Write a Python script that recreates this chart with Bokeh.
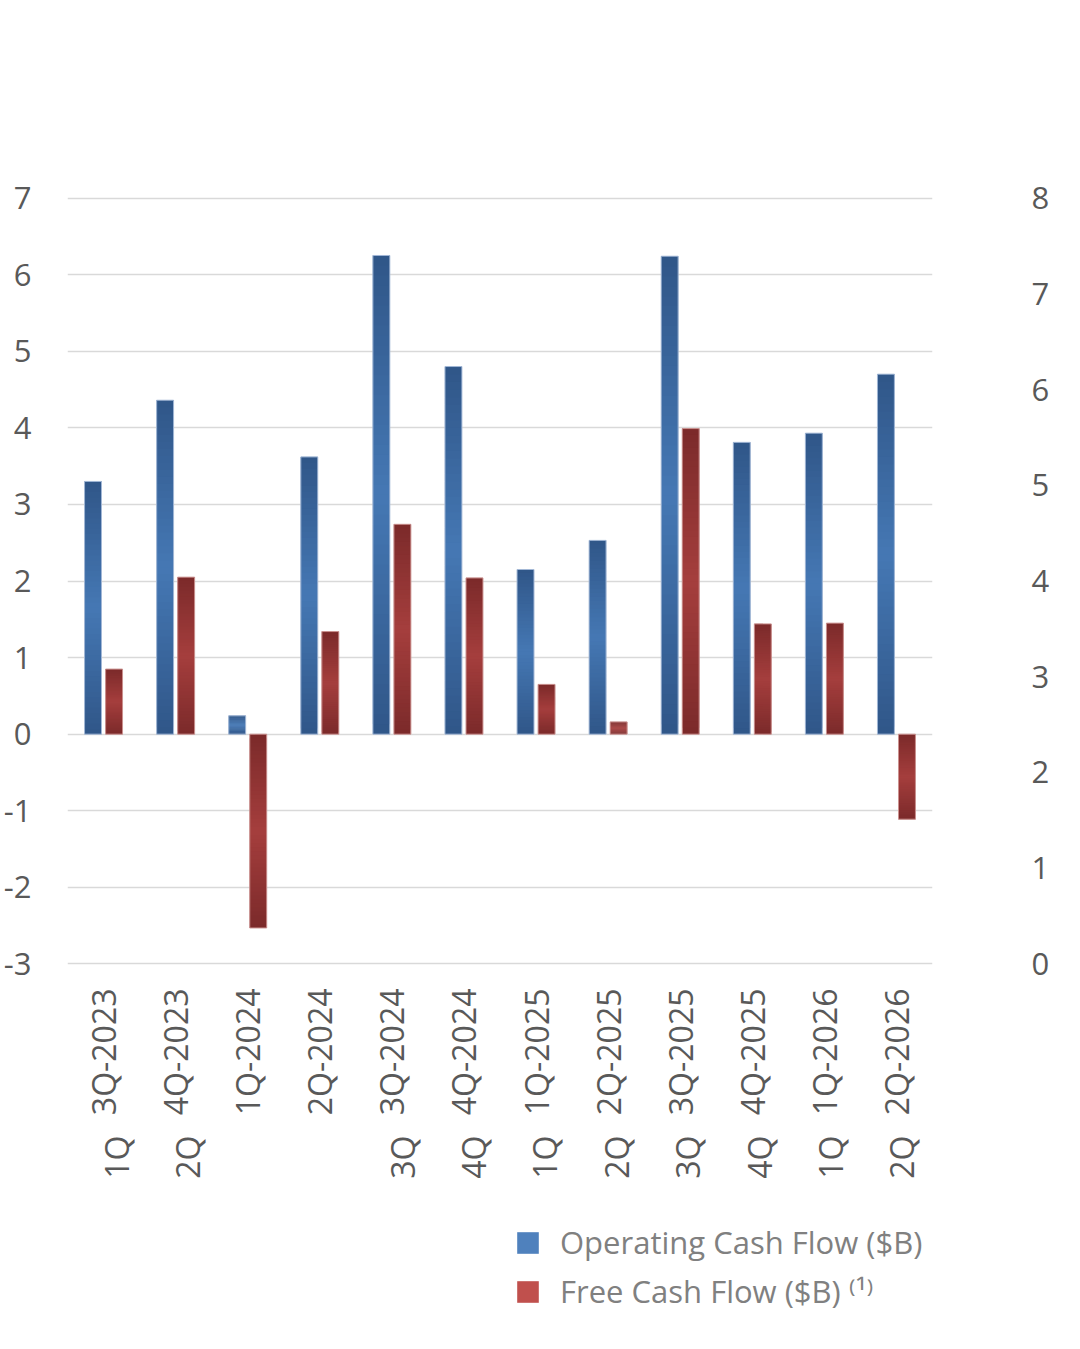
import numpy as np
from bokeh.plotting import figure
from bokeh.layouts import column
from bokeh.models import (Range1d, LinearAxis, FixedTicker,
                          ColumnDataSource, Legend, LegendItem)
from bokeh.embed import file_html
from bokeh.resources import INLINE

# ---------------- data ----------------
quarters = ["3Q-2023", "4Q-2023", "1Q-2024", "2Q-2024", "3Q-2024", "4Q-2024",
            "1Q-2025", "2Q-2025", "3Q-2025", "4Q-2025", "1Q-2026", "2Q-2026"]
fiscal_labels = ["1Q", "2Q", "", "", "3Q", "4Q", "1Q", "2Q", "3Q", "4Q", "1Q", "2Q"]
operating_cf = [3.30, 4.36, 0.24, 3.62, 6.25, 4.80, 2.15, 2.53, 6.24, 3.81, 3.93, 4.70]
free_cf = [0.85, 2.05, -2.53, 1.34, 2.74, 2.04, 0.65, 0.16, 3.99, 1.44, 1.45, -1.11]
series_names = ["Operating Cash Flow ($B)", "Free Cash Flow ($B) \u207d\u00b9\u207e"]
left_ticks = list(range(-3, 8))
right_ticks = list(range(0, 9))

FONT = "Open Sans"
TXT = "#595959"

BLUE_DARK, BLUE_LIGHT = (0x30, 0x56, 0x88), (0x45, 0x78, 0xB4)
RED_DARK, RED_LIGHT = (0x7B, 0x2A, 0x2A), (0xA5, 0x3E, 0x3D)

idx = list(range(len(quarters)))
OFF, W = 0.146, 0.235


def gradient_source(values, shift, dark, light, n=48):
    xs, bottoms, tops, colors = [], [], [], []
    for i, v in zip(idx, values):
        for k in range(n):
            t0, t1 = k / n, min(1.0, (k + 2) / n)
            s = abs((2 * k + 1) / n - 1.0)
            c = tuple(int(round(l * (1 - s) + d * s)) for l, d in zip(light, dark))
            xs.append(i + shift)
            bottoms.append(v * t0)
            tops.append(v * t1)
            colors.append("#%02x%02x%02x" % c)
    return ColumnDataSource(dict(x=xs, bottom=bottoms, top=tops, color=colors))


p = figure(width=1064, height=1205, x_range=Range1d(-0.5, len(quarters) - 0.5),
           y_range=Range1d(-3.02, 7.02), output_backend="svg", toolbar_location=None,
           min_border_left=67, min_border_right=132, min_border_top=196, min_border_bottom=240)
p.extra_y_ranges = {"right": Range1d(-0.016, 8.016)}
p.extra_x_ranges = {"fiscal": Range1d(-0.686, 11.43)}
p.outline_line_color = None
p.background_fill_color = "white"
p.border_fill_color = "white"

blue_src = gradient_source(operating_cf, -OFF, BLUE_DARK, BLUE_LIGHT)
red_src = gradient_source(free_cf, OFF, RED_DARK, RED_LIGHT)
p.vbar(x="x", bottom="bottom", top="top", width=W,
       source=blue_src, fill_color="color", line_color=None)
p.vbar(x="x", bottom="bottom", top="top", width=W,
       source=red_src, fill_color="color", line_color=None)

outline_src = ColumnDataSource(dict(xb=[i - OFF for i in idx], xr=[i + OFF for i in idx],
                                    ocf=operating_cf, fcf=free_cf))
p.vbar(x="xb", top="ocf", bottom=0, width=W, source=outline_src,
       fill_alpha=0, line_color="#A3B8D6", line_width=1)
p.vbar(x="xr", top="fcf", bottom=0, width=W, source=outline_src,
       fill_alpha=0, line_color="#CB9290", line_width=1)

# grid
p.xgrid.visible = False
p.ygrid.ticker = FixedTicker(ticks=left_ticks)
p.ygrid.grid_line_color = "#D9D9D9"
p.ygrid.grid_line_width = 1.4


def style(ax, standoff, size="31px"):
    ax.axis_line_color = None
    ax.major_tick_line_color = None
    ax.minor_tick_line_color = None
    ax.major_label_standoff = standoff
    ax.major_label_text_font = FONT
    ax.major_label_text_font_size = size
    ax.major_label_text_color = TXT


# left axis
ya = p.yaxis[0]
ya.ticker = FixedTicker(ticks=left_ticks)
ya.major_label_overrides = {t: str(t) for t in left_ticks}
style(ya, 30)

# right axis
ra = LinearAxis(y_range_name="right", ticker=FixedTicker(ticks=right_ticks))
style(ra, 93)
p.add_layout(ra, "right")

# bottom quarter axis
xa = p.xaxis[0]
xa.ticker = FixedTicker(ticks=idx)
xa.major_label_overrides = {i: q for i, q in zip(idx, quarters)}
xa.major_label_orientation = np.pi / 2
style(xa, 17, "32px")

# secondary (fiscal quarter) labels
fa = LinearAxis(x_range_name="fiscal", ticker=FixedTicker(ticks=idx))
fa.major_label_overrides = {i: lab for i, lab in zip(idx, fiscal_labels)}
fa.major_label_orientation = np.pi / 2
style(fa, 11, "32px")
p.add_layout(fa, "below")

# ---------------- legend strip ----------------
lg = figure(width=1064, height=128, x_range=Range1d(0, 1), y_range=Range1d(0, 1),
            output_backend="svg", toolbar_location=None,
            x_axis_location=None, y_axis_location=None,
            min_border_left=0, min_border_right=0, min_border_top=0, min_border_bottom=0)
lg.outline_line_color = None
lg.grid.visible = False
lg.background_fill_color = "white"
lg.border_fill_color = "white"
# proxy renderers (their single point lies outside the strip's visible range)
proxy = ColumnDataSource(dict(x=[-5.0], top=[-5.0]))
r_ocf = lg.vbar(x="x", top="top", bottom=-6, width=0.2, source=proxy,
                fill_color="#4F81BD", line_color=None)
r_fcf = lg.vbar(x="x", top="top", bottom=-6, width=0.2, source=proxy,
                fill_color="#C0504D", line_color=None)

legend = Legend(items=[LegendItem(label=series_names[0], renderers=[r_ocf]),
                       LegendItem(label=series_names[1], renderers=[r_fcf])],
                location=(447, 21), orientation="vertical",
                glyph_width=27, glyph_height=27, label_standoff=19, spacing=7,
                padding=0, margin=0, border_line_color=None, background_fill_alpha=0,
                label_text_font=FONT, label_text_font_size="31px", label_text_color="#808080")
lg.add_layout(legend, "center")

page = column(p, lg, spacing=0)
open("out.html", "w").write(file_html(page, INLINE))
